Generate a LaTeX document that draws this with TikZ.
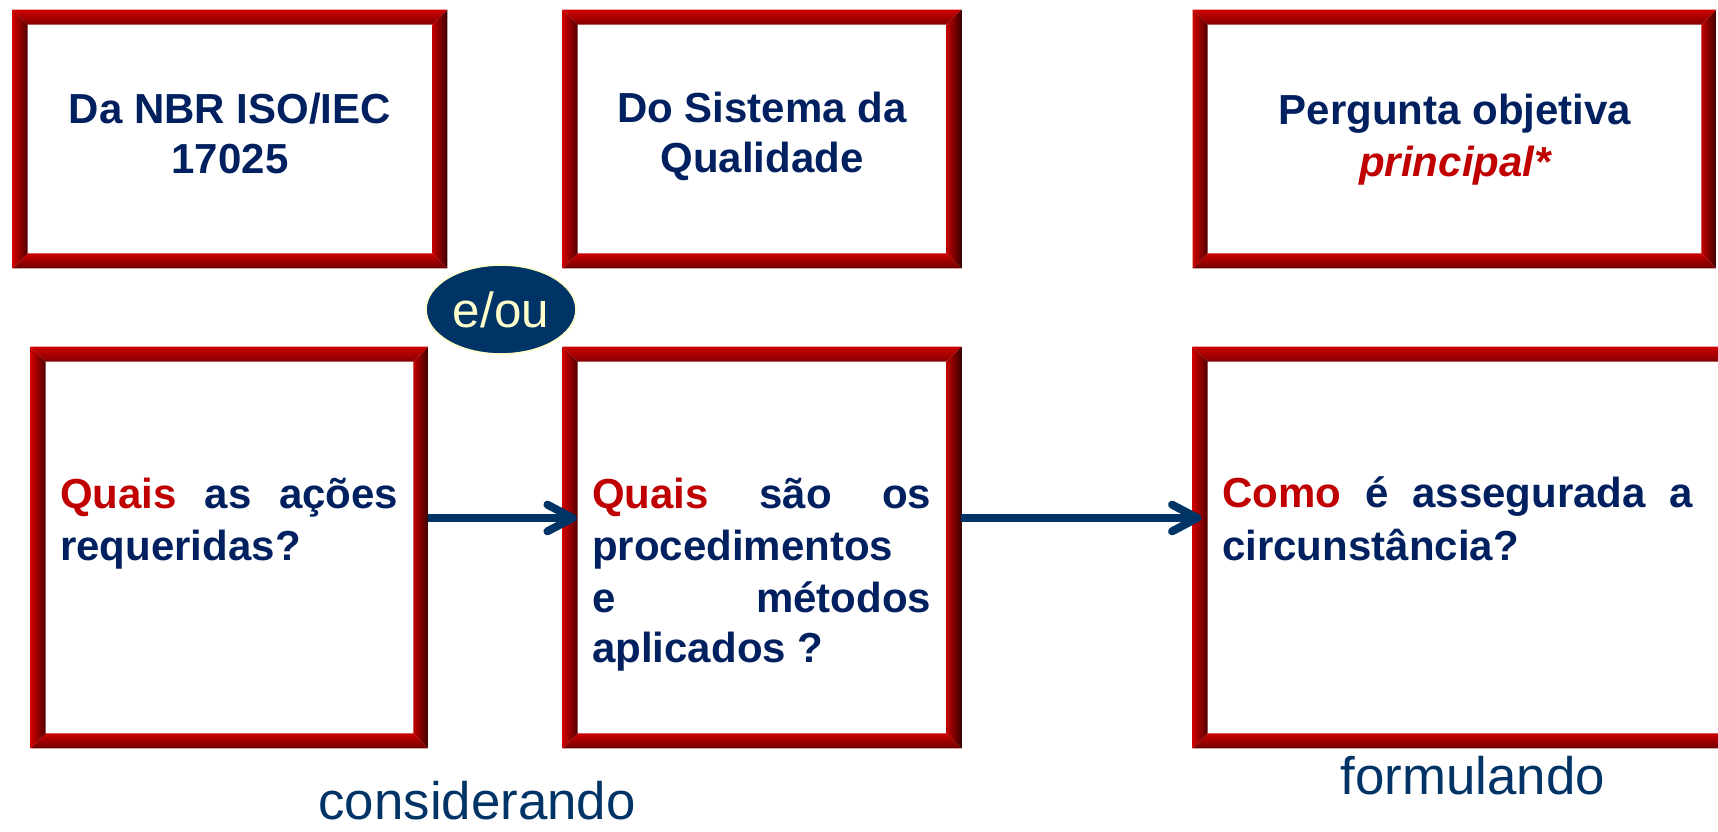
\documentclass[tikz,border=0pt]{standalone}
\usepackage{fontspec}
\setmainfont{Liberation Sans}
\usetikzlibrary{calc,fit,shapes.geometric,arrows.meta}
\definecolor{navy}{HTML}{002060}
\definecolor{qred}{HTML}{C00000}
\definecolor{lblue}{HTML}{003366}
\definecolor{cream}{HTML}{FFFFCC}
\newcommand\bevelframe[1]{%
  \shade[top color={rgb,255:red,205;green,0;blue,0}, middle color={rgb,255:red,236;green,12;blue,12}, bottom color={rgb,255:red,130;green,0;blue,0}]
    (#1.north west) -- (#1.north east) -- ($(#1.north east)+(-15,15)$) -- ($(#1.north west)+(15,15)$) -- cycle;
  \shade[top color={rgb,255:red,205;green,0;blue,0}, middle color={rgb,255:red,150;green,0;blue,0}, bottom color={rgb,255:red,110;green,0;blue,0}]
    (#1.south west) -- (#1.south east) -- ($(#1.south east)+(-15,-15)$) -- ($(#1.south west)+(15,-15)$) -- cycle;
  \shade[left color={rgb,255:red,205;green,0;blue,0}, middle color={rgb,255:red,175;green,0;blue,0}, right color={rgb,255:red,80;green,0;blue,0}]
    (#1.north west) -- ($(#1.north west)+(15,15)$) -- ($(#1.south west)+(15,-15)$) -- (#1.south west) -- cycle;
  \shade[left color={rgb,255:red,195;green,0;blue,0}, middle color={rgb,255:red,175;green,0;blue,0}, right color={rgb,255:red,60;green,0;blue,0}]
    (#1.north east) -- ($(#1.north east)+(-15,15)$) -- ($(#1.south east)+(-15,-15)$) -- (#1.south east) -- cycle;
}
\begin{document}
\begin{tikzpicture}[x=0.75pt,y=-0.75pt,
  frame/.style={fill=white, draw=none, inner sep=0pt},
  txt/.style={font=\fontsize{31.5}{38}\selectfont\bfseries, text=navy, inner sep=0pt},
  lbl/.style={font=\fontsize{39.6}{45}\selectfont, text=lblue, inner sep=0pt, anchor=base},
  conn/.style={draw=lblue, line width=6pt, -{Straight Barb[length=19pt,width=20pt,line cap=round,line join=round]}}
]
\useasboundingbox (0,0) rectangle (1718,832);
\clip (0,0) rectangle (1718,832);
\fill[white] (0,0) rectangle (1718,832);

% boxes
\node[frame, fit={(13,10) (447,268)}] (A) {};
\node[frame, fit={(563,10) (961,268)}] (B) {};
\node[frame, fit={(1193,10) (1716,268)}] (C) {};
\node[frame, fit={(31,347) (428,748)}] (D) {};
\node[frame, fit={(563,347) (961,748)}] (E) {};
\node[frame, fit={(1193,347) (1780,748)}] (F) {};
\foreach \n in {A,B,C,D,E,F} {\bevelframe{\n}}

% top texts
\node[txt, anchor=base] (a1) at (230,123) {Da NBR ISO/IEC};
\node[txt, anchor=base] (a2) at (230,173) {17025};
\node[txt, anchor=base] (b1) at (762,122) {Do Sistema da};
\node[txt, anchor=base] (b2) at (762,172) {Qualidade};
\node[txt, anchor=base] (c1) at (1455,124) {Pergunta objetiva};
\node[txt, anchor=base, text=qred] (c2) at (1455,176) {\itshape principal*};

% bottom texts
\node[txt, anchor=base west] (d1) at (60,508) {\hbox to 253.5pt{\textcolor{qred}{Quais}\hfill as\hfill ações}};
\node[txt, anchor=base west] (d2) at (60,560) {requeridas?};
\node[txt, anchor=base west] (e1) at (592,508) {\hbox to 254.25pt{\textcolor{qred}{Quais}\hfill são\hfill os}};
\node[txt, anchor=base west] (e2) at (592,560) {procedimentos};
\node[txt, anchor=base west] (e3) at (592,612) {\hbox to 254.25pt{e\hfill métodos}};
\node[txt, anchor=base west] (e4) at (592,662) {aplicados ?};
\node[txt, anchor=base west] (f1) at (1222,507) {\hbox to 353.25pt{\textcolor{qred}{Como}\hfill é\hfill assegurada\hfill a}};
\node[txt, anchor=base west] (f2) at (1222,560) {circunstância?};

% e/ou
\node[ellipse, fill=lblue, draw=cream, line width=1.2pt, minimum width=112.5pt, minimum height=66.75pt,
      inner sep=0pt, text=cream, font=\fontsize{37}{40}\selectfont] (eou) at (501,309.5) {e/ou};

% connectors
\coordinate (ay) at (0,518);
\draw[conn, shorten >=-10.5pt] (D.east |- ay) -- (E.west |- ay);
\draw[conn, shorten >=-6.5pt] (E.east |- ay) -- (F.west |- ay);

% labels
\node[lbl] (cons) at (477,819) {considerando};
\node[lbl] (form) at (1473,794) {formulando};
\end{tikzpicture}
\end{document}
